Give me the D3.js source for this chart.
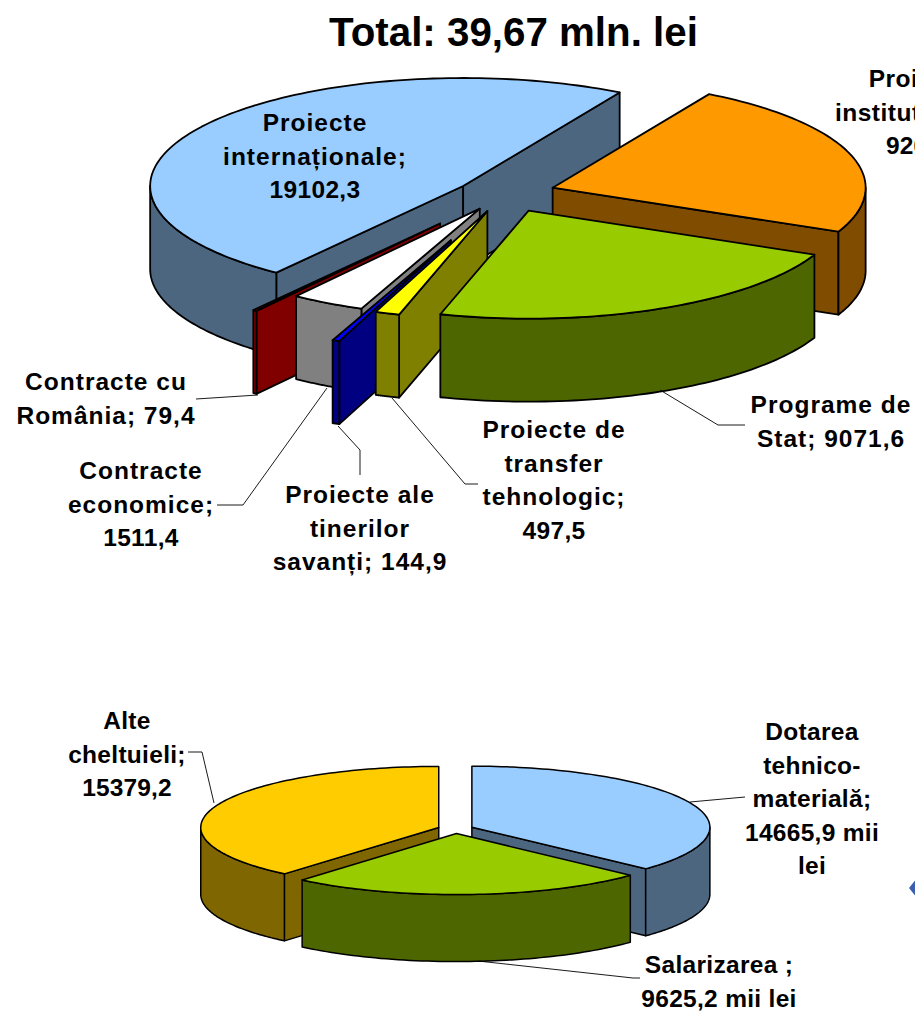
<!DOCTYPE html>
<html>
<head>
<meta charset="utf-8">
<script src="https://cdn.jsdelivr.net/npm/d3@7"></script>
<style>
  html, body { margin: 0; padding: 0; background: #fff; overflow: hidden; }
  svg { display: block; font-family: "Liberation Sans", Arial, sans-serif; font-weight: bold; }
</style>
</head>
<body>
<div id="chart"></div>
<script>
// datos: plăcinta de sus
const titlu = "Total: 39,67 mln. lei";
const catSus = ["Proiecte instituționale", "Programe de Stat", "Proiecte de transfer tehnologic",
  "Proiecte ale tinerilor savanți", "Contracte economice", "Contracte cu România", "Proiecte internaționale"];
const valSus = [9263, 9071.6, 497.5, 144.9, 1511.4, 79.4, 19102.3];
const culoriSus = ["#ff9900", "#99cc00", "#ffff00", "#0000ff", "#ffffff", "#a00000", "#99ccff"];
const lateralSus = ["#804d00", "#4d6600", "#808000", "#000080", "#808080", "#800000", "#4d6680"];
const explodeSus = [0.16, 0.18, 0.176, 0.47, 0.166, 0.35, 0.16];
const ajustSus = [0, 0, 0, 0, 0, 0, 2.5];
const ordineSus = [6, 0, 5, 4, 3, 2, 1];

// datos: plăcinta de jos
const catJos = ["Dotarea tehnico-materială", "Salarizarea", "Alte cheltuieli"];
const valJos = [14665.9, 9625.2, 15379.2];
const culoriJos = ["#99ccff", "#99cc00", "#ffcc00"];
const lateralJos = ["#4d6680", "#4d6600", "#806600"];
const explodeJos = [0.075, 0.075, 0.075];
const ajustJos = [0, 0, 0];
const ordineJos = [2, 0, 1];

const rad = (g) => (g * Math.PI) / 180;
const width = 915;
const height = 1011;

const svg = d3.select("#chart").append("svg")
  .attr("width", width)
  .attr("height", height)
  .attr("viewBox", `0 0 ${width} ${height}`);

function desenPlacinta(valori, culori, laterale, explode, ajust, ordine, o) {
  const { start, cx, cy, rx, ry, depth } = o;
  const x = d3.scaleLinear().domain([-1, 1]).range([cx - rx, cx + rx]);
  const y = d3.scaleLinear().domain([1, -1]).range([cy - ry, cy + ry]);
  const linie = d3.line();
  const g = svg.append("g");

  const felii = d3.pie().sort(null)
    .startAngle(rad(start))
    .endAngle(rad(start + 360))(valori);

  ordine.forEach((i) => {
    const f = felii[i];
    const mij = (f.startAngle + f.endAngle) / 2;
    const ux = explode[i] * Math.sin(mij);
    const uy = explode[i] * Math.cos(mij);
    const centru = [x(ux), y(uy) + ajust[i]];
    const pe = (a) => [x(ux + Math.sin(a)), y(uy + Math.cos(a)) + ajust[i]];
    const jos = (p) => [p[0], p[1] + depth];

    const perete = (a) => {
      const p = pe(a);
      g.append("path")
        .attr("d", linie([centru, p, jos(p), jos(centru)]) + "Z")
        .attr("fill", laterale[i]);
    };
    // peretii radiali vizibili
    if (Math.sin(f.startAngle) < -1e-6) perete(f.startAngle);
    if (Math.sin(f.endAngle) > 1e-6) perete(f.endAngle);

    // peretele exterior, doar partea din fata
    const a0 = Math.max(f.startAngle, rad(90));
    const a1 = Math.min(f.endAngle, rad(270));
    if (a1 > a0) {
      const pasi = d3.range(0, 61).map((k) => a0 + ((a1 - a0) * k) / 60);
      const sus = pasi.map(pe);
      g.append("path")
        .attr("d", linie(sus.concat(sus.map(jos).reverse())) + "Z")
        .attr("fill", laterale[i]);
    }

    // fata de sus
    const n = Math.max(2, Math.ceil((f.endAngle - f.startAngle) * 40));
    const arc = d3.range(0, n + 1).map((k) => pe(f.startAngle + ((f.endAngle - f.startAngle) * k) / n));
    g.append("path")
      .attr("d", linie([centru].concat(arc)) + "Z")
      .attr("fill", culori[i]);
  });

  g.selectAll("path")
    .attr("stroke", "#000")
    .attr("stroke-width", o.stroke)
    .attr("stroke-linejoin", "round");
}

desenPlacinta(valSus, culoriSus, lateralSus, explodeSus, ajustSus, ordineSus,
  { start: 30, cx: 505, cy: 193, rx: 313, ry: 108, depth: 83, stroke: 1.8 });
desenPlacinta(valJos, culoriJos, lateralJos, explodeJos, ajustJos, ordineJos,
  { start: 0, cx: 455.5, cy: 829, rx: 238, ry: 61, depth: 67, stroke: 1.5 });

// linii de legatura catre etichete
const legaturi = [
  [[258, 395], [196, 399]],
  [[327, 388], [243, 505], [217, 505]],
  [[338, 426], [360, 450], [360, 475]],
  [[392, 398], [465, 484], [478, 484]],
  [[660, 390], [718, 425], [745, 425]],
  [[690, 802], [745, 797]],
  [[214, 803], [202, 752], [188, 752]],
  [[478, 961], [633, 978], [640, 978]],
];
svg.append("g").selectAll("path")
  .data(legaturi)
  .join("path")
  .attr("d", d3.line())
  .attr("fill", "none")
  .attr("stroke", "#000")
  .attr("stroke-width", 0.9);

// romb taiat de marginea din dreapta
svg.append("path")
  .attr("d", "M909,888L917,878L925,888L917,898Z")
  .attr("fill", "#3a5fb0");

svg.append("text")
  .attr("x", 513.5)
  .attr("y", 46)
  .attr("text-anchor", "middle")
  .attr("font-size", 40.3)
  .attr("fill", "#000")
  .text(titlu);

// etichete
const etichete = [
  { x: 315, y: 131, sp: 1, linii: ["Proiecte", "internaționale;", "19102,3"] },
  { x: 919, y: 87, sp: 0.5, dx: [0, 0, 5], linii: ["Proiecte", "instituționale;", "9263,0"] },
  { x: 831, y: 413, sp: 1, linii: ["Programe de", "Stat; 9071,6"] },
  { x: 554, y: 438, sp: 1, linii: ["Proiecte de", "transfer", "tehnologic;", "497,5"] },
  { x: 360, y: 503, sp: 1, linii: ["Proiecte ale", "tinerilor", "savanți; 144,9"] },
  { x: 141, y: 479, sp: 1, linii: ["Contracte", "economice;", "1511,4"] },
  { x: 106, y: 390, sp: 1, linii: ["Contracte cu", "România; 79,4"] },
  { x: 127, y: 729, sp: 0.3, linii: ["Alte", "cheltuieli;", "15379,2"] },
  { x: 812, y: 740, sp: 0.3, linii: ["Dotarea", "tehnico-", "materială;", "14665,9 mii", "lei"] },
  { x: 719, y: 973, sp: 0.3, linii: ["Salarizarea ;", "9625,2 mii lei"] },
];
const te = svg.append("g").selectAll("text")
  .data(etichete)
  .join("text")
  .attr("text-anchor", "middle")
  .attr("font-size", 24.5)
  .attr("fill", "#000");
te.selectAll("tspan")
  .data((d) => d.linii.map((t, i) => ({
    t,
    x: d.x + (d.dx ? d.dx[i] : 0),
    y: d.y + i * 33.5,
    sp: /^[\d,]+$/.test(t) ? d.sp / 3 : d.sp,
  })))
  .join("tspan")
  .attr("x", (d) => d.x)
  .attr("y", (d) => d.y)
  .style("letter-spacing", (d) => `${d.sp}px`)
  .text((d) => d.t);
</script>
</body>
</html>
